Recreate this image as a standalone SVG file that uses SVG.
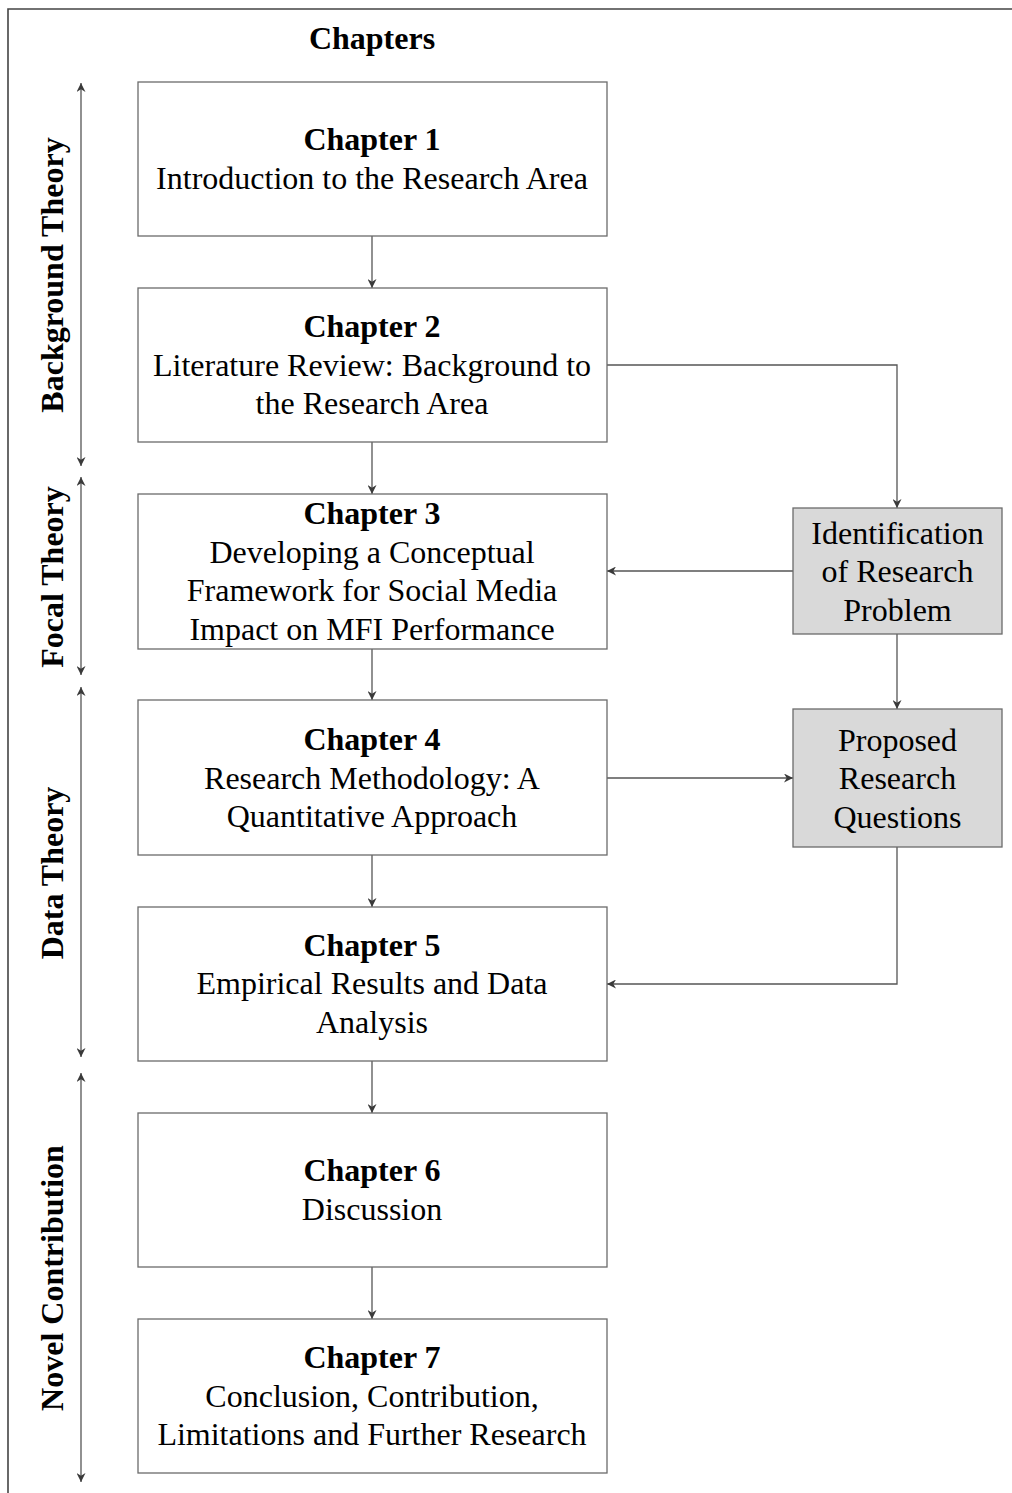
<svg xmlns="http://www.w3.org/2000/svg" width="1012" height="1493" viewBox="0 0 1012 1493">
  <style>
    text { font-family: "Liberation Serif", "Times New Roman", serif; font-size: 32px; fill: #000; }
    .b { font-weight: bold; }
    .c { text-anchor: middle; }
    .box { fill: #fff; stroke: #6b6b6b; stroke-width: 1.3; }
    .grey { fill: #d9d9d9; stroke: #6b6b6b; stroke-width: 1.3; }
    .wire { fill: none; stroke: #555; stroke-width: 1.3; }
    .frame { fill: none; stroke: #444; stroke-width: 1.6; }
  </style>
  <defs>
    <marker id="head" viewBox="0 0 10 10" refX="10" refY="5" markerWidth="9" markerHeight="9" markerUnits="userSpaceOnUse" orient="auto-start-reverse">
      <path d="M0,0 L10,5 L0,10 L3,5 Z" fill="#3a3a3a"/>
    </marker>
  </defs>

  <rect width="1012" height="1493" fill="#fff"/>

  <!-- outer frame (top and left edges) -->
  <path class="frame" d="M8,1493 L8,9 L1012,9"/>

  <text class="b c" x="372" y="49">Chapters</text>

  <!-- section spans on the left -->
  <g id="section-spans">
    <line class="wire" x1="81" y1="83" x2="81" y2="466" marker-start="url(#head)" marker-end="url(#head)"/>
    <line class="wire" x1="81" y1="477" x2="81" y2="675" marker-start="url(#head)" marker-end="url(#head)"/>
    <line class="wire" x1="81" y1="687" x2="81" y2="1057" marker-start="url(#head)" marker-end="url(#head)"/>
    <line class="wire" x1="81" y1="1073" x2="81" y2="1482" marker-start="url(#head)" marker-end="url(#head)"/>
    <text class="b c" transform="translate(63,275) rotate(-90)">Background Theory</text>
    <text class="b c" transform="translate(63,577) rotate(-90)">Focal Theory</text>
    <text class="b c" transform="translate(63,873) rotate(-90)">Data Theory</text>
    <text class="b c" transform="translate(63,1278) rotate(-90)">Novel Contribution</text>
  </g>

  <!-- connectors -->
  <g id="connectors">
    <line class="wire" x1="372" y1="236" x2="372" y2="288" marker-end="url(#head)"/>
    <line class="wire" x1="372" y1="442" x2="372" y2="494" marker-end="url(#head)"/>
    <line class="wire" x1="372" y1="649" x2="372" y2="700" marker-end="url(#head)"/>
    <line class="wire" x1="372" y1="855" x2="372" y2="907" marker-end="url(#head)"/>
    <line class="wire" x1="372" y1="1061" x2="372" y2="1113" marker-end="url(#head)"/>
    <line class="wire" x1="372" y1="1267" x2="372" y2="1319" marker-end="url(#head)"/>
    <polyline class="wire" points="607,365 897,365 897,508" marker-end="url(#head)"/>
    <line class="wire" x1="793" y1="571" x2="607" y2="571" marker-end="url(#head)"/>
    <line class="wire" x1="897" y1="634" x2="897" y2="709" marker-end="url(#head)"/>
    <line class="wire" x1="607" y1="778" x2="793" y2="778" marker-end="url(#head)"/>
    <polyline class="wire" points="897,847 897,984 607,984" marker-end="url(#head)"/>
  </g>

  <!-- chapter nodes -->
  <g id="ch1">
    <rect class="box" x="138" y="82" width="469" height="154"/>
    <text class="b c" x="372" y="150">Chapter 1</text>
    <text class="c" x="372" y="188.5">Introduction to the Research Area</text>
  </g>
  <g id="ch2">
    <rect class="box" x="138" y="288" width="469" height="154"/>
    <text class="b c" x="372" y="337">Chapter 2</text>
    <text class="c" x="372" y="375.5">Literature Review: Background to</text>
    <text class="c" x="372" y="414">the Research Area</text>
  </g>
  <g id="ch3">
    <rect class="box" x="138" y="494" width="469" height="155"/>
    <text class="b c" x="372" y="524">Chapter 3</text>
    <text class="c" x="372" y="562.5">Developing a Conceptual</text>
    <text class="c" x="372" y="601">Framework for Social Media</text>
    <text class="c" x="372" y="639.5">Impact on MFI Performance</text>
  </g>
  <g id="ch4">
    <rect class="box" x="138" y="700" width="469" height="155"/>
    <text class="b c" x="372" y="750">Chapter 4</text>
    <text class="c" x="372" y="788.5">Research Methodology: A</text>
    <text class="c" x="372" y="827">Quantitative Approach</text>
  </g>
  <g id="ch5">
    <rect class="box" x="138" y="907" width="469" height="154"/>
    <text class="b c" x="372" y="955.5">Chapter 5</text>
    <text class="c" x="372" y="994">Empirical Results and Data</text>
    <text class="c" x="372" y="1032.5">Analysis</text>
  </g>
  <g id="ch6">
    <rect class="box" x="138" y="1113" width="469" height="154"/>
    <text class="b c" x="372" y="1181">Chapter 6</text>
    <text class="c" x="372" y="1219.5">Discussion</text>
  </g>
  <g id="ch7">
    <rect class="box" x="138" y="1319" width="469" height="154"/>
    <text class="b c" x="372" y="1368">Chapter 7</text>
    <text class="c" x="372" y="1406.5">Conclusion, Contribution,</text>
    <text class="c" x="372" y="1445">Limitations and Further Research</text>
  </g>

  <!-- side nodes -->
  <g id="research-problem">
    <rect class="grey" x="793" y="508" width="209" height="126"/>
    <text class="c" x="897.5" y="543.5">Identification</text>
    <text class="c" x="897.5" y="582">of Research</text>
    <text class="c" x="897.5" y="620.5">Problem</text>
  </g>
  <g id="research-questions">
    <rect class="grey" x="793" y="709" width="209" height="138"/>
    <text class="c" x="897.5" y="750.5">Proposed</text>
    <text class="c" x="897.5" y="789">Research</text>
    <text class="c" x="897.5" y="827.5">Questions</text>
  </g>
</svg>
